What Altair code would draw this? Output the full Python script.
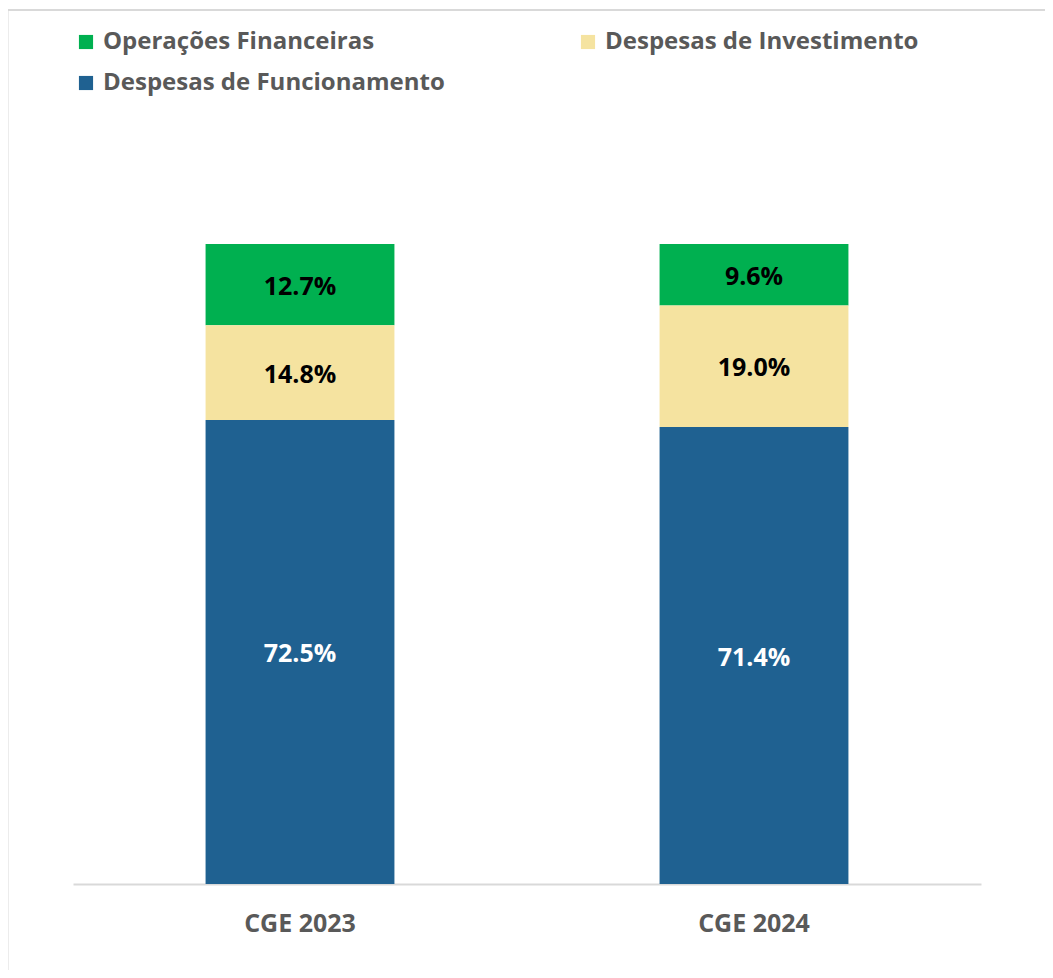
import altair as alt
import pandas as pd

years = ["CGE 2023", "CGE 2024"]
categories = ["Operações Financeiras", "Despesas de Investimento", "Despesas de Funcionamento"]
legend_order = ["Operações Financeiras", "Despesas de Funcionamento", "Despesas de Investimento"]
stack_order = [3, 2, 1]
funcionamento = [72.5, 71.4]
investimento = [14.8, 19.0]
operacoes = [12.7, 9.6]
colors = {"Operações Financeiras": "#00B050",
          "Despesas de Investimento": "#F5E3A0",
          "Despesas de Funcionamento": "#1F6191"}
label_colors = ["black", "black", "white"]

rows = []
for i, y in enumerate(years):
    for c, vals, o, lc in zip(categories, [operacoes, investimento, funcionamento], stack_order, label_colors):
        rows.append({"year": y, "cat": c, "value": vals[i], "ord": o, "lc": lc})
df = pd.DataFrame(rows)

FONT = "Open Sans"

base = alt.Chart(df)

bars = base.mark_bar().encode(
    x=alt.X("year:N", sort=years, title=None,
            scale=alt.Scale(paddingInner=0.584, paddingOuter=0.292),
            axis=alt.Axis(labelAngle=0, ticks=False, labelFontSize=25, labelFont=FONT,
                          labelFontWeight="bold", labelColor="#595959", labelPadding=27,
                          domainColor="#D9D9D9", domainWidth=2)),
    y=alt.Y("value:Q", stack="zero", scale=alt.Scale(domain=[0, 100]), axis=None),
    color=alt.Color("cat:N", sort=legend_order,
                    scale=alt.Scale(domain=legend_order, range=[colors[c] for c in legend_order]),
                    legend=alt.Legend(title=None, orient="none", legendX=1, legendY=-214,
                                      columns=2, columnPadding=131, rowPadding=17,
                                      symbolType="square", symbolSize=200, symbolStrokeWidth=0,
                                      labelFont=FONT, labelFontSize=24, labelFontWeight="bold",
                                      labelColor="#595959", labelLimit=500, padding=0,
                                      symbolOffset=0, labelOffset=5)),
    order=alt.Order("ord:Q"),
)

labels = base.transform_stack(
    stack="value", groupby=["year"], sort=[alt.SortField("ord")], as_=["y0", "y1"]
).transform_calculate(
    mid="(datum.y0 + datum.y1) / 2",
    txt="format(datum.value, '.1f') + '%'",
).mark_text(font=FONT, fontSize=25, fontWeight="bold", dy=2).encode(
    x=alt.X("year:N", sort=years),
    y=alt.Y("mid:Q"),
    text=alt.Text("txt:N"),
    color=alt.Color("lc:N", scale=None),
)

frame_left = alt.Chart(pd.DataFrame({"k": [0]})).mark_rule(color="#D9D9D9", strokeWidth=2).encode(
    x=alt.value(-65.5), y=alt.value(-234), y2=alt.value(740)
)
frame_top = alt.Chart(pd.DataFrame({"k": [0]})).mark_rule(color="#D9D9D9", strokeWidth=2).encode(
    x=alt.value(-66), x2=alt.value(980), y=alt.value(-234)
)

chart = alt.layer(bars, labels, frame_left, frame_top).properties(
    width=908, height=640,
    padding={"left": 65, "top": 236, "right": 64, "bottom": 86},
    autosize=alt.AutoSizeParams(type="none"),
).configure_view(stroke=None)

chart.save("out.html", embed_options={"renderer": "svg", "actions": False})
